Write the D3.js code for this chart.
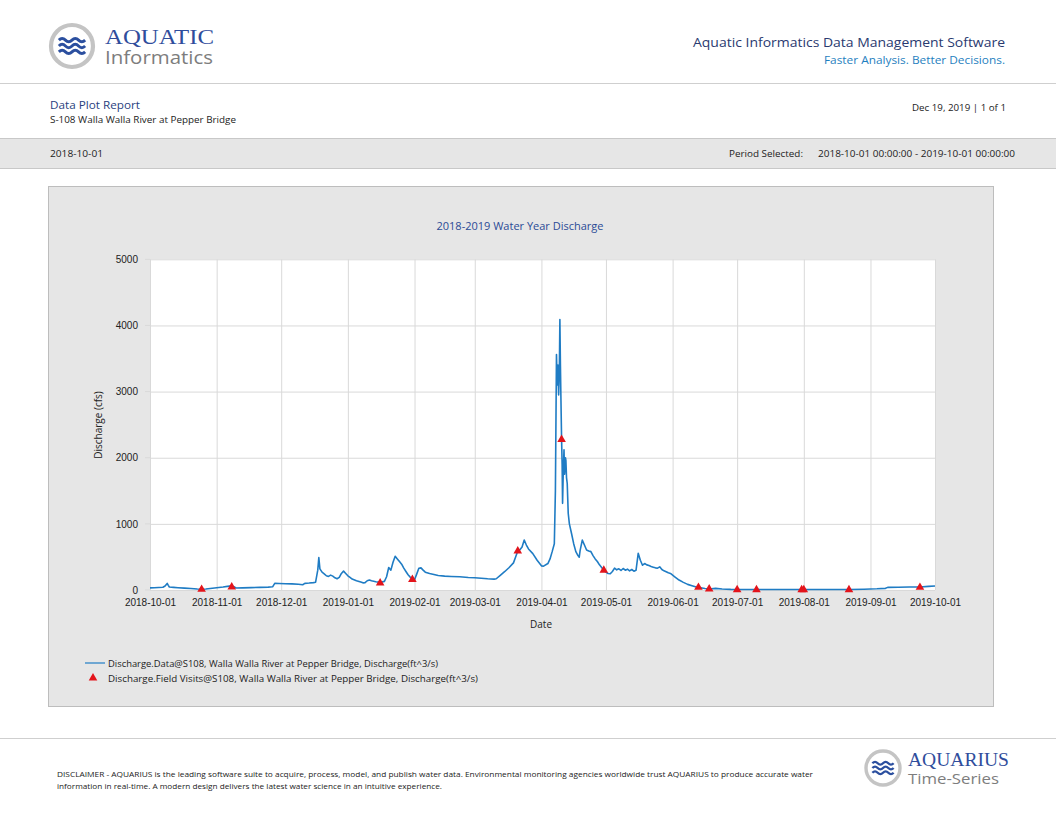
<!DOCTYPE html>
<html>
<head>
<meta charset="utf-8">
<script src="https://cdnjs.cloudflare.com/ajax/libs/d3/7.8.5/d3.min.js"></script>
<style>
    body { margin: 0; background: #fff; }
    svg { display: block; font-family: "Open Sans", "Noto Sans", sans-serif; }
</style>
</head>
<body>
<div class="report-page"></div>
<script>

// Discharge (cfs), [time, value]
var dischargeSeries = [
    ["2018-10-01", 32], ["2018-10-03", 35], ["2018-10-05", 38], ["2018-10-07", 42], ["2018-10-08", 60],
    ["2018-10-09", 100], ["2018-10-09T12", 70], ["2018-10-10", 45], ["2018-10-12", 40], ["2018-10-14", 35],
    ["2018-10-17", 28], ["2018-10-20", 22], ["2018-10-23", 15], ["2018-10-25", 12], ["2018-10-27", 14],
    ["2018-10-29", 22], ["2018-10-31", 30], ["2018-11-02", 38], ["2018-11-04", 45], ["2018-11-06", 55],
    ["2018-11-08", 62], ["2018-11-09", 50], ["2018-11-10", 30], ["2018-11-13", 32], ["2018-11-17", 36],
    ["2018-11-21", 40], ["2018-11-25", 44], ["2018-11-27", 48], ["2018-11-28", 100], ["2018-11-30", 98],
    ["2018-12-03", 95], ["2018-12-06", 92], ["2018-12-09", 88], ["2018-12-11", 80], ["2018-12-12", 100],
    ["2018-12-14", 105], ["2018-12-16", 112], ["2018-12-17", 118], ["2018-12-18", 300], ["2018-12-18T12", 490],
    ["2018-12-19", 320], ["2018-12-20", 270], ["2018-12-21", 245], ["2018-12-22", 215], ["2018-12-23", 205],
    ["2018-12-24", 225], ["2018-12-25", 210], ["2018-12-26", 185], ["2018-12-27", 170], ["2018-12-28", 190],
    ["2018-12-29", 250], ["2018-12-30", 285], ["2018-12-31", 250], ["2019-01-01", 215], ["2019-01-02", 190],
    ["2019-01-03", 165], ["2019-01-05", 140], ["2019-01-07", 120], ["2019-01-08", 108], ["2019-01-09", 112],
    ["2019-01-10", 140], ["2019-01-11", 150], ["2019-01-12", 140], ["2019-01-14", 125], ["2019-01-16", 115],
    ["2019-01-18", 130], ["2019-01-19", 200], ["2019-01-20", 340], ["2019-01-21", 300], ["2019-01-22", 420],
    ["2019-01-23", 510], ["2019-01-24", 470], ["2019-01-25", 430], ["2019-01-26", 390], ["2019-01-27", 330],
    ["2019-01-28", 280], ["2019-01-29", 230], ["2019-01-30", 195], ["2019-01-31", 170], ["2019-02-01", 155],
    ["2019-02-02", 240], ["2019-02-03", 330], ["2019-02-04", 335], ["2019-02-05", 300], ["2019-02-06", 270],
    ["2019-02-08", 250], ["2019-02-10", 235], ["2019-02-12", 220], ["2019-02-15", 210], ["2019-02-18", 205],
    ["2019-02-22", 200], ["2019-02-26", 190], ["2019-03-01", 185], ["2019-03-04", 178], ["2019-03-07", 170],
    ["2019-03-10", 165], ["2019-03-11", 170], ["2019-03-13", 225], ["2019-03-15", 280], ["2019-03-17", 340],
    ["2019-03-19", 410], ["2019-03-20", 500], ["2019-03-21", 590], ["2019-03-22", 610], ["2019-03-23", 650],
    ["2019-03-24", 755], ["2019-03-25", 680], ["2019-03-26", 620], ["2019-03-28", 550], ["2019-03-30", 450],
    ["2019-04-01", 365], ["2019-04-02", 360], ["2019-04-04", 400], ["2019-04-05", 470], ["2019-04-06", 580],
    ["2019-04-07", 700], ["2019-04-07T12", 1500], ["2019-04-08T00", 3560], ["2019-04-08T08", 3100],
    ["2019-04-08T16", 3400], ["2019-04-09T00", 2950], ["2019-04-09T08", 3300], ["2019-04-09T14", 4090],
    ["2019-04-09T20", 3400], ["2019-04-10T02", 2870], ["2019-04-10T09", 2275], ["2019-04-10T15", 1900],
    ["2019-04-10T20", 1310], ["2019-04-11T04", 1800], ["2019-04-11T12", 2120], ["2019-04-11T18", 1750],
    ["2019-04-11T22", 1850], ["2019-04-12T04", 2000], ["2019-04-12T09", 1960], ["2019-04-12T16", 1700],
    ["2019-04-13T00", 1610], ["2019-04-13T11", 1160], ["2019-04-14", 1000], ["2019-04-15", 855],
    ["2019-04-16", 700], ["2019-04-17", 580], ["2019-04-18", 520], ["2019-04-18T14", 495], ["2019-04-19", 600],
    ["2019-04-20", 755], ["2019-04-21", 680], ["2019-04-22", 605], ["2019-04-23", 590], ["2019-04-24", 580],
    ["2019-04-25", 520], ["2019-04-26", 470], ["2019-04-27", 430], ["2019-04-28", 380], ["2019-04-29", 340],
    ["2019-04-30", 300], ["2019-05-01", 270], ["2019-05-02", 250], ["2019-05-03", 245], ["2019-05-04", 280],
    ["2019-05-05", 330], ["2019-05-06", 305], ["2019-05-07", 320], ["2019-05-08", 295], ["2019-05-09", 325],
    ["2019-05-10", 300], ["2019-05-11", 315], ["2019-05-12", 290], ["2019-05-13", 310], ["2019-05-14", 285],
    ["2019-05-15", 300], ["2019-05-16", 555], ["2019-05-17", 450], ["2019-05-18", 375], ["2019-05-19", 400],
    ["2019-05-20", 380], ["2019-05-21", 370], ["2019-05-22", 355], ["2019-05-23", 345], ["2019-05-24", 335],
    ["2019-05-25", 330], ["2019-05-26", 350], ["2019-05-27", 310], ["2019-05-28", 290], ["2019-05-29", 275],
    ["2019-05-30", 260], ["2019-05-31", 250], ["2019-06-02", 200], ["2019-06-04", 150], ["2019-06-06", 115],
    ["2019-06-08", 85], ["2019-06-10", 65], ["2019-06-12", 45], ["2019-06-14", 35], ["2019-06-16", 22],
    ["2019-06-18", 15], ["2019-06-21", 25], ["2019-06-24", 15], ["2019-06-28", 10], ["2019-07-03", 8],
    ["2019-07-10", 8], ["2019-07-18", 7], ["2019-07-25", 8], ["2019-08-01", 7], ["2019-08-08", 8],
    ["2019-08-15", 7], ["2019-08-22", 8], ["2019-08-29", 12], ["2019-09-04", 18], ["2019-09-08", 25],
    ["2019-09-09", 40], ["2019-09-14", 42], ["2019-09-19", 45], ["2019-09-24", 45], ["2019-09-28", 55],
    ["2019-10-01", 60]
];

// Field visit measurements (cfs)
var fieldVisits = [
    ["2018-10-25", 10], ["2018-11-08", 45], ["2019-01-16", 105], ["2019-01-31", 160],
    ["2019-03-21", 590], ["2019-04-10T09", 2275], ["2019-04-30", 300], ["2019-06-13", 40],
    ["2019-06-18", 15], ["2019-07-01", 5], ["2019-07-10", 5], ["2019-07-31", 5],
    ["2019-08-01", 5], ["2019-08-22", 5], ["2019-09-24", 40]
];

var yTicks = [0, 1000, 2000, 3000, 4000, 5000];
var periodStart = "2018-10-01";
var periodEnd = "2019-10-01";

var legendLabels = [
    "Discharge.Data@S108, Walla Walla River at Pepper Bridge, Discharge(ft^3/s)",
    "Discharge.Field Visits@S108, Walla Walla River at Pepper Bridge, Discharge(ft^3/s)"
];

var disclaimerLines = [
    "DISCLAIMER - AQUARIUS is the leading software suite to acquire, process, model, and publish water data. Environmental monitoring agencies worldwide trust AQUARIUS to produce accurate water",
    "information in real-time. A modern design delivers the latest water science in an intuitive experience."
];


/*
 * ReportPage - draws the page frame and the discharge plot
 */

ReportPage = function(_parentElement, _series, _visits){
    this.parentElement = _parentElement;
    this.series = _series;
    this.visits = _visits;

    this.initVis();
}


ReportPage.prototype.initVis = function(){
    var vis = this;

    vis.width = 1056;
    vis.height = 816;

    vis.svg = d3.select("." + vis.parentElement).append("svg")
        .attr("width", vis.width)
        .attr("height", vis.height);

    vis.drawHeader();
    vis.drawFooter();

    // Chart panel
    vis.svg.append("rect")
        .attr("x", 48.5).attr("y", 186.5)
        .attr("width", 945).attr("height", 520)
        .attr("fill", "#e6e6e6")
        .attr("stroke", "#bdbdbd");

    vis.svg.append("text")
        .attr("x", 520).attr("y", 230)
        .attr("text-anchor", "middle")
        .attr("font-size", 11)
        .attr("fill", "#2b4b96")
        .text("2018-2019 Water Year Discharge");

    vis.margin = { top: 259.3, left: 150, right: 935, bottom: 590 };

    vis.plot = vis.svg.append("g");

    vis.plot.append("rect")
        .attr("x", vis.margin.left).attr("y", vis.margin.top)
        .attr("width", vis.margin.right - vis.margin.left)
        .attr("height", vis.margin.bottom - vis.margin.top)
        .attr("fill", "#fff");

    // Scales and axes
    vis.parseTime = function(s) {
        return s.length > 10 ? d3.utcParse("%Y-%m-%dT%H")(s) : d3.utcParse("%Y-%m-%d")(s);
    };

    vis.x = d3.scaleUtc()
        .domain([vis.parseTime(periodStart), vis.parseTime(periodEnd)])
        .range([vis.margin.left, vis.margin.right]);

    vis.y = d3.scaleLinear()
        .domain([0, 5000])
        .range([vis.margin.bottom, vis.margin.top]);

    vis.xAxis = d3.axisBottom(vis.x)
        .ticks(d3.utcMonth.every(1))
        .tickFormat(d3.utcFormat("%Y-%m-%d"))
        .tickSize(vis.margin.top - vis.margin.bottom)
        .tickPadding(9);

    vis.yAxis = d3.axisLeft(vis.y)
        .tickValues(yTicks)
        .tickFormat(d3.format("d"))
        .tickSize(-(vis.margin.right - vis.margin.left))
        .tickPadding(12);

    vis.xAxisGroup = vis.plot.append("g")
        .attr("class", "x-axis axis")
        .attr("transform", "translate(0," + vis.margin.bottom + ")");

    vis.yAxisGroup = vis.plot.append("g")
        .attr("class", "y-axis axis")
        .attr("transform", "translate(" + vis.margin.left + ",0)");

    // Axis titles
    vis.svg.append("text")
        .attr("transform", "translate(102,425) rotate(-90)")
        .attr("text-anchor", "middle")
        .attr("font-size", 10)
        .attr("fill", "#222")
        .text("Discharge (cfs)");

    vis.svg.append("text")
        .attr("x", 541).attr("y", 628)
        .attr("text-anchor", "middle")
        .attr("font-size", 10)
        .attr("fill", "#222")
        .text("Date");

    vis.wrangleData();
}


ReportPage.prototype.wrangleData = function(){
    var vis = this;

    vis.lineData = vis.series.map(function(d) {
        return { date: vis.parseTime(d[0]), value: d[1] };
    });

    vis.visitData = vis.visits.map(function(d) {
        return { date: vis.parseTime(d[0]), value: d[1] };
    });

    vis.updateVis();
}


ReportPage.prototype.updateVis = function(){
    var vis = this;

    vis.xAxisGroup.call(vis.xAxis);
    vis.yAxisGroup.call(vis.yAxis);

    vis.plot.selectAll(".axis .domain").remove();
    vis.plot.selectAll(".axis line").attr("stroke", "#d9d9d9");
    vis.plot.selectAll(".axis text")
        .attr("font-size", 10)
        .attr("fill", "#222");

    // small outer ticks on the value axis
    vis.plot.append("g").selectAll("line")
        .data(yTicks)
        .enter()
        .append("line")
        .attr("x1", vis.margin.left - 5).attr("x2", vis.margin.left)
        .attr("y1", function(d) { return vis.y(d); })
        .attr("y2", function(d) { return vis.y(d); })
        .attr("stroke", "#d9d9d9");

    var line = d3.line()
        .x(function(d) { return vis.x(d.date); })
        .y(function(d) { return vis.y(d.value); });

    vis.plot.append("path")
        .datum(vis.lineData)
        .attr("fill", "none")
        .attr("stroke", "#1f7cc4")
        .attr("stroke-width", 1.6)
        .attr("stroke-linejoin", "round")
        .attr("d", line);

    var triangle = d3.symbol().type(d3.symbolTriangle).size(32);

    vis.plot.selectAll(".visit")
        .data(vis.visitData)
        .enter()
        .append("path")
        .attr("class", "visit")
        .attr("transform", function(d) {
            return "translate(" + vis.x(d.date) + "," + vis.y(d.value) + ")";
        })
        .attr("fill", "#e3141b")
        .attr("d", triangle);

    // Legend
    var legend = vis.svg.append("g");

    legend.append("line")
        .attr("x1", 85).attr("x2", 105)
        .attr("y1", 663).attr("y2", 663)
        .attr("stroke", "#1f7cc4")
        .attr("stroke-width", 1.2);

    legend.append("path")
        .attr("transform", "translate(93,678)")
        .attr("fill", "#e3141b")
        .attr("d", triangle);

    legend.selectAll("text")
        .data(legendLabels)
        .enter()
        .append("text")
        .attr("x", 108)
        .attr("y", function(d, i) { return 666.5 + i * 15; })
        .attr("font-size", 9.5)
        .attr("fill", "#222")
        .attr("textLength", function(d, i) { return i === 0 ? 330 : 370; })
        .attr("lengthAdjust", "spacingAndGlyphs")
        .text(function(d) { return d; });
}


ReportPage.prototype.drawLogo = function(cx, cy, r){
    var vis = this;
    var g = vis.svg.append("g");

    g.append("circle")
        .attr("cx", cx).attr("cy", cy).attr("r", r)
        .attr("fill", "#fff")
        .attr("stroke", "#c4c4c4")
        .attr("stroke-width", r * 0.2);

    var w = r * 1.25;
    [-0.28, 0, 0.28].forEach(function(dy) {
        var y0 = cy + dy * r;
        var path = d3.path();
        var step = w / 4;
        path.moveTo(cx - w / 2, y0);
        for (var k = 0; k < 4; k++) {
            var xs = cx - w / 2 + k * step;
            path.quadraticCurveTo(xs + step / 2, y0 + (k % 2 === 0 ? -r * 0.16 : r * 0.16), xs + step, y0);
        }
        g.append("path")
            .attr("d", path.toString())
            .attr("fill", "none")
            .attr("stroke", "#2b4f9f")
            .attr("stroke-width", r * 0.14);
    });
}


ReportPage.prototype.drawHeader = function(){
    var vis = this;

    vis.drawLogo(72, 46, 21);

    vis.svg.append("text")
        .attr("x", 105).attr("y", 44)
        .attr("font-family", "'Liberation Serif', 'DejaVu Serif', serif")
        .attr("font-size", 22)
        .attr("fill", "#2f4d9c")
        .attr("textLength", 109).attr("lengthAdjust", "spacingAndGlyphs")
        .text("AQUATIC");

    vis.svg.append("text")
        .attr("x", 105).attr("y", 64)
        .attr("font-size", 17.5)
        .attr("fill", "#7d7d7d")
        .attr("textLength", 108).attr("lengthAdjust", "spacingAndGlyphs")
        .text("Informatics");

    vis.svg.append("text")
        .attr("x", 1005).attr("y", 47)
        .attr("text-anchor", "end")
        .attr("font-size", 13.5)
        .attr("fill", "#2a3a70")
        .attr("textLength", 312).attr("lengthAdjust", "spacingAndGlyphs")
        .text("Aquatic Informatics Data Management Software");

    vis.svg.append("text")
        .attr("x", 1005).attr("y", 64)
        .attr("text-anchor", "end")
        .attr("font-size", 11.5)
        .attr("fill", "#1f7fc0")
        .attr("textLength", 181).attr("lengthAdjust", "spacingAndGlyphs")
        .text("Faster Analysis. Better Decisions.");

    vis.svg.append("line")
        .attr("x1", 0).attr("x2", vis.width)
        .attr("y1", 83.5).attr("y2", 83.5)
        .attr("stroke", "#cfcfcf");

    // Report info
    vis.svg.append("text")
        .attr("x", 50).attr("y", 109)
        .attr("font-size", 11.5)
        .attr("fill", "#2a3f80")
        .attr("textLength", 90).attr("lengthAdjust", "spacingAndGlyphs")
        .text("Data Plot Report");

    vis.svg.append("text")
        .attr("x", 50).attr("y", 123)
        .attr("font-size", 9.5)
        .attr("fill", "#222")
        .attr("textLength", 186).attr("lengthAdjust", "spacingAndGlyphs")
        .text("S-108 Walla Walla River at Pepper Bridge");

    vis.svg.append("text")
        .attr("x", 1006).attr("y", 111)
        .attr("text-anchor", "end")
        .attr("font-size", 9.5)
        .attr("fill", "#222")
        .attr("textLength", 94).attr("lengthAdjust", "spacingAndGlyphs")
        .text("Dec 19, 2019 | 1 of 1");

    // Period band
    vis.svg.append("rect")
        .attr("x", 0).attr("y", 138.5)
        .attr("width", vis.width).attr("height", 30)
        .attr("fill", "#e6e6e6");

    [138.5, 168.5].forEach(function(y) {
        vis.svg.append("line")
            .attr("x1", 0).attr("x2", vis.width)
            .attr("y1", y).attr("y2", y)
            .attr("stroke", "#c8c8c8");
    });

    vis.svg.append("text")
        .attr("x", 50).attr("y", 156.5)
        .attr("font-size", 9.5)
        .attr("fill", "#222")
        .attr("textLength", 53).attr("lengthAdjust", "spacingAndGlyphs")
        .text(periodStart);

    vis.svg.append("text")
        .attr("x", 729).attr("y", 156.5)
        .attr("font-size", 9.5)
        .attr("fill", "#222")
        .attr("textLength", 74).attr("lengthAdjust", "spacingAndGlyphs")
        .text("Period Selected:");

    vis.svg.append("text")
        .attr("x", 818).attr("y", 156.5)
        .attr("font-size", 9.5)
        .attr("fill", "#222")
        .attr("textLength", 197).attr("lengthAdjust", "spacingAndGlyphs")
        .text(periodStart + " 00:00:00 - " + periodEnd + " 00:00:00");
}


ReportPage.prototype.drawFooter = function(){
    var vis = this;

    vis.svg.append("line")
        .attr("x1", 0).attr("x2", vis.width)
        .attr("y1", 738.5).attr("y2", 738.5)
        .attr("stroke", "#cfcfcf");

    vis.svg.selectAll(".disclaimer")
        .data(disclaimerLines)
        .enter()
        .append("text")
        .attr("class", "disclaimer")
        .attr("x", 57)
        .attr("y", function(d, i) { return 777 + i * 12; })
        .attr("font-size", 8)
        .attr("fill", "#222")
        .attr("textLength", function(d, i) { return i === 0 ? 756 : 385; })
        .attr("lengthAdjust", "spacingAndGlyphs")
        .text(function(d) { return d; });

    vis.drawLogo(883, 768, 17);

    vis.svg.append("text")
        .attr("x", 908).attr("y", 766)
        .attr("font-family", "'Liberation Serif', 'DejaVu Serif', serif")
        .attr("font-size", 18)
        .attr("fill", "#2f4d9c")
        .attr("textLength", 101).attr("lengthAdjust", "spacingAndGlyphs")
        .text("AQUARIUS");

    vis.svg.append("text")
        .attr("x", 908).attr("y", 784)
        .attr("font-size", 14)
        .attr("fill", "#7d7d7d")
        .attr("textLength", 91).attr("lengthAdjust", "spacingAndGlyphs")
        .text("Time-Series");
}


var report = new ReportPage("report-page", dischargeSeries, fieldVisits);

</script>
</body>
</html>
